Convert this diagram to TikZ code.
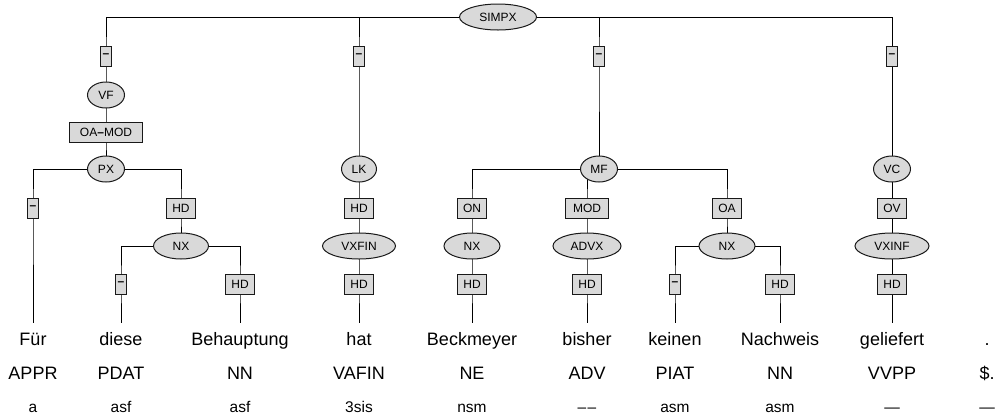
\documentclass[tikz,border=0pt]{standalone}
\usepackage{fontspec}
\setmainfont{Liberation Sans}
\usetikzlibrary{shapes.geometric}
\pgfdeclarelayer{background}
\pgfsetlayers{background,main}
\newcommand{\lblfont}{\fontsize{12}{14}\selectfont}
\newcommand{\wrdfont}{\fontsize{18}{22}\selectfont}
\newcommand{\mrphfont}{\fontsize{15.5}{18}\selectfont}
\newcommand{\nolbl}{\textbf{--}}
\tikzset{
  phrase/.style={ellipse, draw, fill=black!15, minimum width=#1,
    minimum height=26pt, inner sep=0pt, font=\lblfont},
  phrase/.default=37pt,
  edgebox/.style={rectangle, draw, fill=black!15, minimum width=#1,
    minimum height=20pt, inner sep=0pt, font=\lblfont},
  edgebox/.default=29pt,
  wordtext/.style={anchor=base, text height=18pt, inner ysep=4pt, inner xsep=0pt, font=\wrdfont},
  tagtext/.style={anchor=base, inner sep=0pt, font=\wrdfont},
  morphtext/.style={anchor=base, inner sep=0pt, font=\mrphfont}
}

\begin{document}
\begin{tikzpicture}[x=1pt, y=-1pt, line width=1pt, draw=black!90]
  \useasboundingbox (0,0) rectangle (996,416);
  % root
  \node[phrase=77pt] (simpx) at (498,17) {SIMPX};
  % VF field
  \node[edgebox=11pt] (e1) at (106,56) {\nolbl};
  \node[phrase] (vf) at (106,95) {VF};
  \node[edgebox=73pt] (oamod) at (106,132) {OA\textbf{--}MOD};
  \node[phrase] (px) at (106,169) {PX};
  \node[edgebox=11pt] (e2) at (33,208) {\nolbl};
  \node[edgebox] (hd1) at (181,208) {HD};
  \node[phrase=55pt] (nx1) at (181,246) {NX};
  \node[edgebox=11pt] (e3) at (121,284) {\nolbl};
  \node[edgebox] (hd2) at (240,284) {HD};
  % LK field
  \node[edgebox=11pt] (e4) at (359,56) {\nolbl};
  \node[phrase=35pt] (lk) at (359,169) {LK};
  \node[edgebox] (hd3) at (359,208) {HD};
  \node[phrase=73pt] (vxfin) at (359,246) {VXFIN};
  \node[edgebox] (hd4) at (359,284) {HD};
  % MF field
  \node[edgebox=11pt] (e5) at (599,56) {\nolbl};
  \node[phrase] (mf) at (599,169) {MF};
  \node[edgebox] (on) at (472,208) {ON};
  \node[phrase=56pt] (nx2) at (472,246) {NX};
  \node[edgebox] (hd5) at (472,284) {HD};
  \node[edgebox=43pt] (mod) at (587,208) {MOD};
  \node[phrase=68pt] (advx) at (587,246) {ADVX};
  \node[edgebox] (hd6) at (587,284) {HD};
  \node[edgebox] (oa) at (727,208) {OA};
  \node[phrase=56pt] (nx3) at (727,246) {NX};
  \node[edgebox=11pt] (e6) at (675,284) {\nolbl};
  \node[edgebox] (hd7) at (780,284) {HD};
  % VC field
  \node[edgebox=11pt] (e7) at (892,56) {\nolbl};
  \node[phrase] (vc) at (892,169) {VC};
  \node[edgebox] (ov) at (892,208) {OV};
  \node[phrase=74pt] (vxinf) at (892,246) {VXINF};
  \node[edgebox] (hd8) at (892,284) {HD};
  % tokens, tags, morphology
  \node[wordtext] (w1) at (33,345) {Für};  \node[tagtext] (t1) at (33,379) {APPR};  \node[morphtext] (m1) at (33,412) {a};
  \node[wordtext] (w2) at (121,345) {diese};  \node[tagtext] (t2) at (121,379) {PDAT};  \node[morphtext] (m2) at (121,412) {asf};
  \node[wordtext] (w3) at (240,345) {Behauptung};  \node[tagtext] (t3) at (240,379) {NN};  \node[morphtext] (m3) at (240,412) {asf};
  \node[wordtext] (w4) at (359,345) {hat};  \node[tagtext] (t4) at (359,379) {VAFIN};  \node[morphtext] (m4) at (359,412) {3sis};
  \node[wordtext] (w5) at (472,345) {Beckmeyer};  \node[tagtext] (t5) at (472,379) {NE};  \node[morphtext] (m5) at (472,412) {nsm};
  \node[wordtext] (w6) at (587,345) {bisher};  \node[tagtext] (t6) at (587,379) {ADV};  \node[morphtext] (m6) at (587,412) {--\kern1.5pt--};
  \node[wordtext] (w7) at (675,345) {keinen};  \node[tagtext] (t7) at (675,379) {PIAT};  \node[morphtext] (m7) at (675,412) {asm};
  \node[wordtext] (w8) at (780,345) {Nachweis};  \node[tagtext] (t8) at (780,379) {NN};  \node[morphtext] (m8) at (780,412) {asm};
  \node[wordtext] (w9) at (892,345) {geliefert};  \node[tagtext] (t9) at (892,379) {VVPP};  \node[morphtext] (m9) at (892,412) {---};
  \node[wordtext] (w10) at (987,345) {.};  \node[tagtext] (t10) at (987,379) {\$.};  \node[morphtext] (m10) at (987,412) {---};
  % tree edges, behind the nodes
  \begin{pgfonlayer}{background}
    \draw (simpx.center) -| (e1.center) -- (vf.center) -- (oamod.center) -- (px.center);
    \draw (px.center) -| (e2.center) -- (w1.north);
    \draw (px.center) -| (hd1.center) -- (nx1.center);
    \draw (nx1.center) -| (e3.center) -- (w2.north);
    \draw (nx1.center) -| (hd2.center) -- (w3.north);
    \draw (simpx.center) -| (e4.center) -- (lk.center) -- (hd3.center) -- (vxfin.center) -- (hd4.center) -- (w4.north);
    \draw (simpx.center) -| (e5.center) -- (mf.center);
    \draw (mf.center) -| (on.center) -- (nx2.center) -- (hd5.center) -- (w5.north);
    \draw (mf.center) -| (mod.center) -- (advx.center) -- (hd6.center) -- (w6.north);
    \draw (mf.center) -| (oa.center) -- (nx3.center);
    \draw (nx3.center) -| (e6.center) -- (w7.north);
    \draw (nx3.center) -| (hd7.center) -- (w8.north);
    \draw (simpx.center) -| (e7.center) -- (vc.center) -- (ov.center) -- (vxinf.center) -- (hd8.center) -- (w9.north);
  \end{pgfonlayer}
\end{tikzpicture}
\end{document}
